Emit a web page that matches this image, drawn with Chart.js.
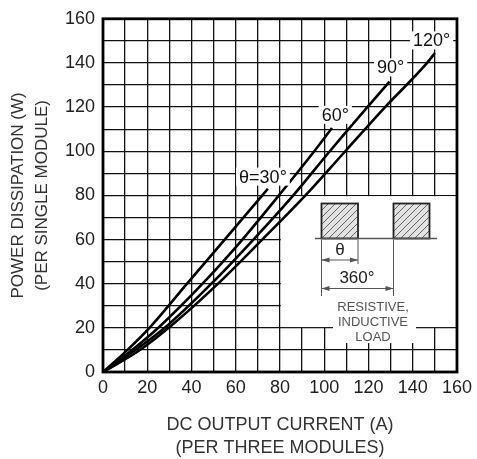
<!DOCTYPE html>
<html>
<head>
<meta charset="utf-8">
<script src="https://cdn.jsdelivr.net/npm/chart.js@4.4.0/dist/chart.umd.min.js"></script>
<style>
  html, body { margin: 0; padding: 0; background: #fff; }
  #wrap { width: 477px; height: 459px; }
</style>
</head>
<body>
<div id="wrap"><canvas id="chart"></canvas></div>
<script>
// curves: DC output current (A) vs power dissipation (W)
const current30 = [0, 10, 21, 38, 55, 72, 74.5];
const power30 = [0, 9, 20, 40, 60, 80, 83];
const current60 = [0, 12, 25.5, 45, 63, 79.5, 95.5, 103.5];
const power60 = [0, 9, 20.5, 40, 60, 80, 100, 110.5];
const current90 = [0, 14, 29, 49, 68, 86, 102.5, 119.5, 129.5];
const power90 = [0, 9.5, 21, 40, 60, 80, 100, 120, 131.5];
const current120 = [0, 16, 32, 52.5, 72.5, 91.5, 109.5, 127.5, 146.5, 150];
const power120 = [0, 9.5, 22, 40.5, 60.5, 80, 100, 120, 140, 144.5];

const seriesNames = ['θ=30°', '60°', '90°', '120°'];
const xTicks = [0, 20, 40, 60, 80, 100, 120, 140, 160];
const yTicks = [0, 20, 40, 60, 80, 100, 120, 140, 160];

const FONT = '"Liberation Sans", Arial, sans-serif';

function toPoints(xs, ys) {
  return xs.map((x, i) => ({ x: x, y: ys[i] }));
}

// label anchors (data units) for the curve names
const curveLabels = [
  { text: seriesNames[0], x: 72.3, y: 88.5 },
  { text: seriesNames[1], x: 105, y: 116.5 },
  { text: seriesNames[2], x: 130, y: 138 },
  { text: seriesNames[3], x: 148.5, y: 150.2 }
];

const overlay = {
  id: 'overlay',
  beforeDatasetsDraw(chart) {
    const { ctx, scales: { x, y } } = chart;
    ctx.save();
    // white box holding the waveform sketch
    const l = x.getPixelForValue(80) + 0.8;
    const r = x.getPixelForValue(160) - 0.8;
    const t = y.getPixelForValue(80) + 0.8;
    const b = y.getPixelForValue(20) - 0.8;
    ctx.fillStyle = '#fff';
    ctx.fillRect(l, t, r - l, b - t);
    // white behind the load text
    ctx.fillRect(333, b - 2, 83, 18);
    ctx.restore();
  },
  afterDatasetsDraw(chart) {
    const { ctx, scales: { x, y } } = chart;
    ctx.save();

    // curve labels on white
    ctx.font = '18px ' + FONT;
    ctx.textBaseline = 'middle';
    ctx.textAlign = 'center';
    curveLabels.forEach(lb => {
      const px = x.getPixelForValue(lb.x);
      const py = y.getPixelForValue(lb.y);
      const w = ctx.measureText(lb.text).width;
      ctx.fillStyle = '#fff';
      ctx.fillRect(px - w / 2 - 3, py - 9, w + 6, 18);
      ctx.fillStyle = '#111';
      ctx.fillText(lb.text, px, py + 1);
    });

    // waveform sketch
    const r1 = [321.5, 203.5, 36.5, 35];
    const r2 = [393.5, 203.5, 36, 35];
    [r1, r2].forEach(rc => {
      ctx.save();
      ctx.beginPath();
      ctx.rect(rc[0], rc[1], rc[2], rc[3]);
      ctx.fillStyle = '#e2e2e2';
      ctx.fill();
      ctx.clip();
      ctx.strokeStyle = '#555';
      ctx.lineWidth = 0.9;
      for (let k = -rc[3]; k < rc[2] + rc[3]; k += 7) {
        ctx.beginPath();
        ctx.moveTo(rc[0] + k, rc[1] + rc[3]);
        ctx.lineTo(rc[0] + k + rc[3], rc[1]);
        ctx.stroke();
      }
      ctx.restore();
      ctx.strokeStyle = '#222';
      ctx.lineWidth = 1.8;
      ctx.strokeRect(rc[0], rc[1], rc[2], rc[3]);
    });
    ctx.strokeStyle = '#555';
    ctx.lineWidth = 1.3;
    ctx.beginPath();
    ctx.moveTo(315, 238.5); ctx.lineTo(437, 238.5);
    ctx.stroke();

    ctx.lineWidth = 1;
    ctx.beginPath();
    ctx.moveTo(321.5, 240); ctx.lineTo(321.5, 296);
    ctx.moveTo(358, 240); ctx.lineTo(358, 264);
    ctx.moveTo(393.5, 240); ctx.lineTo(393.5, 296);
    ctx.stroke();

    function arrow(x1, x2, yy) {
      ctx.beginPath();
      ctx.moveTo(x1, yy); ctx.lineTo(x2, yy);
      ctx.stroke();
      ctx.beginPath();
      ctx.moveTo(x1, yy); ctx.lineTo(x1 + 8, yy - 2.5); ctx.lineTo(x1 + 8, yy + 2.5); ctx.closePath();
      ctx.moveTo(x2, yy); ctx.lineTo(x2 - 8, yy - 2.5); ctx.lineTo(x2 - 8, yy + 2.5); ctx.closePath();
      ctx.fillStyle = '#555';
      ctx.fill();
    }
    arrow(321.5, 358, 260);
    arrow(321.5, 393.5, 288.5);

    ctx.fillStyle = '#222';
    ctx.font = '17px ' + FONT;
    ctx.textAlign = 'center';
    ctx.fillText('θ', 340, 250);
    ctx.fillText('360°', 357, 278);

    ctx.font = '13px ' + FONT;
    const bw = ctx.measureText('INDUCTIVE').width;
    ctx.fillStyle = '#fff';
    ctx.fillRect(373 - bw / 2 - 4, 314, bw + 8, 14);
    ctx.fillStyle = '#555';
    ctx.fillText('RESISTIVE,', 373, 307);
    ctx.fillText('INDUCTIVE', 373, 322);
    ctx.fillText('LOAD', 373, 337);

    ctx.restore();
  },
  afterDraw(chart) {
    const { ctx, chartArea: a } = chart;
    ctx.save();
    ctx.strokeStyle = '#000';
    ctx.lineWidth = 2.8;
    ctx.strokeRect(a.left, a.top, a.right - a.left, a.bottom - a.top);
    ctx.restore();
  }
};

const lineStyle = {
  borderColor: '#000',
  borderWidth: 2.6,
  pointRadius: 0,
  fill: false,
  cubicInterpolationMode: 'monotone'
};

new Chart(document.getElementById('chart'), {
  type: 'line',
  data: {
    datasets: [
      Object.assign({ label: seriesNames[0], data: toPoints(current30, power30) }, lineStyle),
      Object.assign({ label: seriesNames[1], data: toPoints(current60, power60) }, lineStyle),
      Object.assign({ label: seriesNames[2], data: toPoints(current90, power90) }, lineStyle),
      Object.assign({ label: seriesNames[3], data: toPoints(current120, power120) }, lineStyle)
    ]
  },
  options: {
    responsive: true,
    maintainAspectRatio: false,
    animation: false,
    layout: { padding: { left: 0, right: 19, top: 16, bottom: 0 } },
    plugins: { legend: { display: false }, tooltip: { enabled: false } },
    scales: {
      x: {
        type: 'linear',
        min: 0, max: 160,
        afterFit(s) { s.height = 87; },
        ticks: {
          stepSize: 10,
          autoSkip: false,
          maxRotation: 0,
          padding: 5,
          color: '#222',
          font: { family: FONT, size: 18 },
          callback: v => (xTicks.includes(v) ? String(v) : '')
        },
        grid: { color: '#111', lineWidth: 1.3, drawTicks: false },
        border: { display: false },
        title: {
          display: true,
          text: ['DC OUTPUT CURRENT (A)', '(PER THREE MODULES)'],
          color: '#333',
          font: { family: FONT, size: 18, lineHeight: 1.25 },
          padding: { top: 0, bottom: 0 }
        }
      },
      y: {
        type: 'linear',
        min: 0, max: 160,
        afterFit(s) { s.width = 103; },
        ticks: {
          stepSize: 10,
          autoSkip: false,
          padding: 8,
          color: '#222',
          font: { family: FONT, size: 18 },
          callback: v => (yTicks.includes(v) ? String(v) : '')
        },
        grid: { color: '#111', lineWidth: 1.3, drawTicks: false },
        border: { display: false },
        title: {
          display: true,
          text: ['POWER DISSIPATION (W)', '(PER SINGLE MODULE)'],
          color: '#333',
          font: { family: FONT, size: 17, lineHeight: 1.38 },
          padding: { top: 7, bottom: 0 }
        }
      }
    }
  },
  plugins: [overlay]
});
</script>
</body>
</html>
